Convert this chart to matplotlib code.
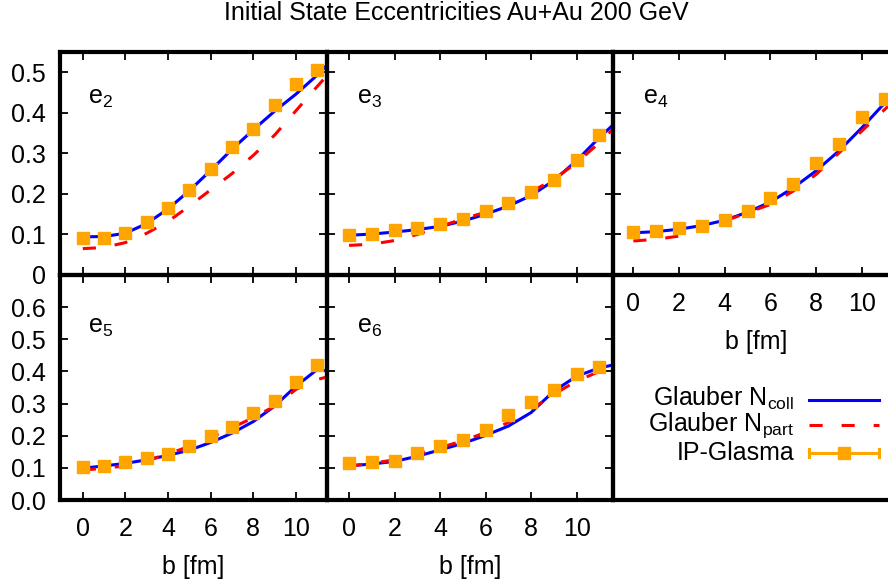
import matplotlib
matplotlib.use('Agg')
import matplotlib.pyplot as plt
from matplotlib.lines import Line2D

plt.rcParams['font.family'] = ['Liberation Sans', 'DejaVu Sans']
plt.rcParams['mathtext.fontset'] = 'custom'
plt.rcParams['mathtext.rm'] = 'Liberation Sans'
plt.rcParams['mathtext.it'] = 'Liberation Sans'
plt.rcParams['font.size'] = 18

# impact parameter points
b_pts = [0, 1, 2, 3, 4, 5, 6, 7, 8, 9, 10, 11]
b_line = [0, 1, 2, 3, 4, 5, 6, 7, 8, 9, 10, 11, 11.6]

e2_ncoll = [0.094, 0.095, 0.103, 0.127, 0.163, 0.208, 0.258, 0.310, 0.358, 0.404, 0.446, 0.493, 0.525]
e2_npart = [0.065, 0.068, 0.080, 0.103, 0.132, 0.170, 0.210, 0.250, 0.295, 0.345, 0.405, 0.465, 0.500]
e2_glasma = [0.092, 0.092, 0.104, 0.130, 0.165, 0.210, 0.261, 0.315, 0.361, 0.420, 0.471, 0.506]

e3_ncoll = [0.098, 0.101, 0.106, 0.112, 0.120, 0.133, 0.150, 0.170, 0.196, 0.233, 0.282, 0.339, 0.370]
e3_npart = [0.073, 0.076, 0.085, 0.100, 0.120, 0.138, 0.155, 0.175, 0.205, 0.236, 0.277, 0.326, 0.360]
e3_glasma = [0.098, 0.102, 0.110, 0.116, 0.125, 0.137, 0.157, 0.177, 0.204, 0.234, 0.283, 0.345]

e4_ncoll = [0.104, 0.107, 0.113, 0.122, 0.135, 0.155, 0.180, 0.215, 0.257, 0.306, 0.363, 0.424, 0.460]
e4_npart = [0.084, 0.088, 0.096, 0.113, 0.133, 0.154, 0.174, 0.207, 0.248, 0.301, 0.355, 0.408, 0.440]
e4_glasma = [0.106, 0.108, 0.116, 0.122, 0.136, 0.159, 0.190, 0.224, 0.276, 0.322, 0.389, 0.435]

e5_ncoll = [0.099, 0.106, 0.114, 0.125, 0.139, 0.155, 0.179, 0.208, 0.244, 0.292, 0.354, 0.406, 0.400]
e5_npart = [0.093, 0.099, 0.106, 0.123, 0.143, 0.167, 0.194, 0.225, 0.256, 0.292, 0.344, 0.375, 0.385]
e5_glasma = [0.103, 0.106, 0.117, 0.130, 0.143, 0.168, 0.199, 0.227, 0.272, 0.308, 0.367, 0.419]

e6_ncoll = [0.106, 0.112, 0.120, 0.136, 0.156, 0.176, 0.201, 0.230, 0.272, 0.339, 0.385, 0.411, 0.420]
e6_npart = [0.106, 0.114, 0.125, 0.143, 0.163, 0.184, 0.210, 0.241, 0.282, 0.329, 0.370, 0.400, 0.415]
e6_glasma = [0.114, 0.119, 0.122, 0.145, 0.168, 0.187, 0.218, 0.264, 0.305, 0.341, 0.393, 0.414]

top_yticks = [0, 0.1, 0.2, 0.3, 0.4, 0.5]
top_ylabels = ['0', '0.1', '0.2', '0.3', '0.4', '0.5']
bot_yticks = [0, 0.1, 0.2, 0.3, 0.4, 0.5, 0.6, 0.7]
bot_ylabels = ['0.0', '0.1', '0.2', '0.3', '0.4', '0.5', '0.6', '']
xticks = [0, 2, 4, 6, 8, 10]

W, H = 888, 585
fig = plt.figure(figsize=(W / 100, H / 100), dpi=100)


def make_ax(left, top, width, height):
    return fig.add_axes([left / W, 1 - (top + height) / H, width / W, height / H])


# panel pixel boxes
col_left = [60, 327, 613]
col_width = [267, 286, 286]
col_xlim = [(-1.07, 11.46), (-0.97, 11.6), (-0.89, 11.63)]
row_top = [52, 275]
row_height = [223, 225]

panels = [
    (0, 0, 'e$_2$', e2_ncoll, e2_npart, e2_glasma),
    (0, 1, 'e$_3$', e3_ncoll, e3_npart, e3_glasma),
    (0, 2, 'e$_4$', e4_ncoll, e4_npart, e4_glasma),
    (1, 0, 'e$_5$', e5_ncoll, e5_npart, e5_glasma),
    (1, 1, 'e$_6$', e6_ncoll, e6_npart, e6_glasma),
]

blue = '#0000ff'
red = '#ff0000'
orange = '#ffa500'
dash = (4.3, 6.2)

for row, col, name, ncoll, npart, glasma in panels:
    ax = make_ax(col_left[col], row_top[row], col_width[col], row_height[row])
    if row == 0:
        ax.set_ylim(0, 0.55)
        ax.set_yticks(top_yticks)
        ax.set_yticklabels(top_ylabels)
        label_y = 0.767
    else:
        ax.set_ylim(0, 0.7)
        ax.set_yticks(bot_yticks)
        ax.set_yticklabels(bot_ylabels)
        label_y = 0.742
    ax.set_xlim(*col_xlim[col])
    ax.set_xticks(xticks)

    ax.plot(b_line, ncoll, color=blue, lw=2.2, zorder=2)
    ax.plot(b_line, npart, color=red, lw=2.2, dashes=dash, zorder=3)
    ax.plot(b_pts, glasma, ls='none', marker='s', ms=8.5, color=orange,
            mec=orange, zorder=4)

    ax.text(0.104, label_y, name, transform=ax.transAxes, fontsize=18,
            va='baseline', ha='left')

    ax.tick_params(direction='in', length=6, width=1.3, top=True, right=True,
                   pad=10, labelsize=18)
    ax.tick_params(axis='x', pad=12)
    if col != 0:
        ax.tick_params(labelleft=False)
    if row == 0 and col != 2:
        ax.tick_params(labelbottom=False)
    else:
        ax.set_xlabel('b [fm]', fontsize=18, labelpad=10)
    for s in ax.spines.values():
        s.set_linewidth(3)
    ax.set_facecolor('none')

# key box (bottom right)
lax = make_ax(613, 275, 286, 225)
lax.set_xticks([])
lax.set_yticks([])
lax.patch.set_visible(False)
for s in lax.spines.values():
    s.set_linewidth(3)

key_labels = ['Glauber N$_{\\rm coll}$', 'Glauber N$_{\\rm part}$', 'IP-Glasma']
key_text_y = [0.418, 0.306, 0.179]
key_line_y = [0.444, 0.332, 0.209]
for lab, yk in zip(key_labels, key_text_y):
    lax.text(0.633, yk, lab, transform=lax.transAxes, ha='right',
             va='baseline', fontsize=18)
x0, x1 = 0.687, 0.930
lax.add_line(Line2D([x0, x1], [key_line_y[0]] * 2, color=blue, lw=2.2,
                    transform=lax.transAxes))
lax.add_line(Line2D([x0, x1], [key_line_y[1]] * 2, color=red, lw=2.2,
                    dashes=dash, transform=lax.transAxes))
yg = key_line_y[2]
lax.add_line(Line2D([x0, x1], [yg, yg], color=orange, lw=2.2,
                    transform=lax.transAxes))
for xc in (x0, x1):
    lax.add_line(Line2D([xc, xc], [yg - 0.018, yg + 0.018], color=orange,
                        lw=2.2, transform=lax.transAxes))
lax.add_line(Line2D([(x0 + x1) / 2], [yg], ls='none', marker='s', ms=8.5,
                    color=orange, transform=lax.transAxes))

fig.text(456 / W, 1 - 13 / H, 'Initial State Eccentricities Au+Au 200 GeV',
         ha='center', va='center', fontsize=18)

fig.savefig('out.png', dpi=100)
